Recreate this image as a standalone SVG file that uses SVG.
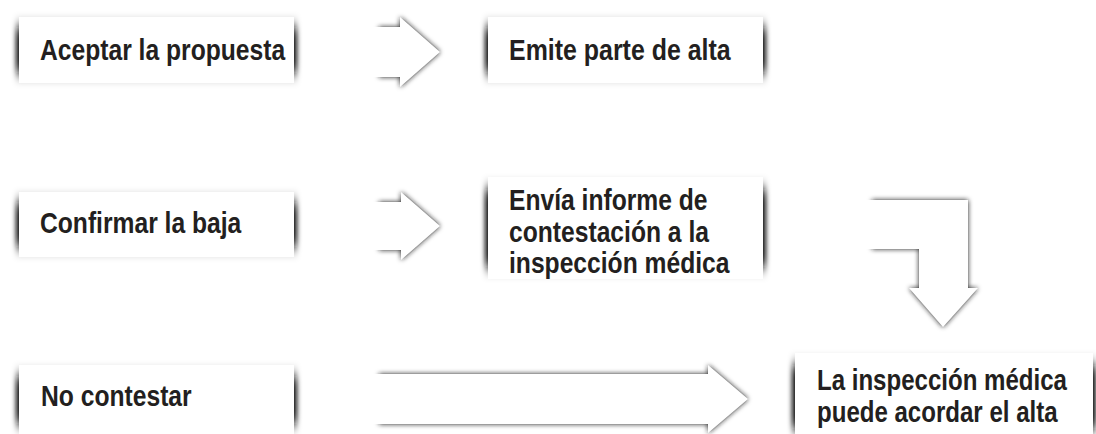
<svg xmlns="http://www.w3.org/2000/svg" width="1096" height="434" viewBox="0 0 1096 434">
<defs>
<filter id="boxsh" x="-10%" y="-50%" width="120%" height="200%"><feGaussianBlur stdDeviation="2.6 7"/></filter>
<filter id="arrsh" x="-20%" y="-30%" width="140%" height="160%"><feGaussianBlur stdDeviation="2.6"/></filter>
</defs>
<style>
.bsh{fill:#111111;filter:url(#boxsh)}
.box{fill:#ffffff}
.ash{fill:#1e1e1e;filter:url(#arrsh)}
.arr{fill:#ffffff}
.t{font-family:"Liberation Sans",Arial,sans-serif;font-weight:bold;font-size:29px;fill:#231f20}
</style>
<rect width="1096" height="434" fill="#ffffff"/>

<g id="connectors">
<g id="arrow1">
<path class="ash" d="M379,27 H400 V17 L440,52 L400,87 V77 H379 Z"/>
<path class="arr" d="M373,27 H400 V17 L440,52 L400,87 V77 H373 Z"/>
</g>
<g id="arrow2">
<path class="ash" d="M379,202 H401 V192 L440,226 L401,260 V250 H379 Z"/>
<path class="arr" d="M373,202 H401 V192 L440,226 L401,260 V250 H373 Z"/>
</g>
<g id="arrow3">
<path class="ash" d="M379,374 H708 V365 L748,399 L708,433 V424 H379 Z"/>
<path class="arr" d="M373,374 H708 V365 L748,399 L708,433 V424 H373 Z"/>
</g>
<g id="arrow4">
<path class="ash" d="M872,200 H968 V288 H978 L943,327 L909,288 H919 V249 H872 Z"/>
<path class="arr" d="M866,200 H968 V288 H978 L943,327 L909,288 H919 V249 H866 Z"/>
</g>
</g>

<g id="n1">
<rect class="bsh" x="16" y="27" width="281" height="46"/>
<rect class="box" x="19" y="17" width="275" height="66"/>
<g transform="translate(40,0) scale(0.85,1)"><text class="t" x="0" y="60">Aceptar la propuesta</text></g>
</g>
<g id="n2">
<rect class="bsh" x="485" y="27" width="281" height="46"/>
<rect class="box" x="488" y="17" width="275" height="66"/>
<g transform="translate(509,0) scale(0.86,1)"><text class="t" x="0" y="60">Emite parte de alta</text></g>
</g>
<g id="n3">
<rect class="bsh" x="16" y="202" width="281" height="45"/>
<rect class="box" x="19" y="192" width="275" height="65"/>
<g transform="translate(40,0) scale(0.85,1)"><text class="t" x="0" y="233">Confirmar la baja</text></g>
</g>
<g id="n4">
<rect class="bsh" x="485" y="189" width="281" height="78"/>
<rect class="box" x="488" y="177" width="275" height="102"/>
<g transform="translate(509,0) scale(0.85,1)">
<text class="t" x="0" y="210">Envía informe de</text>
<text class="t" x="0" y="242">contestación a la</text>
<text class="t" x="0" y="273">inspección médica</text>
</g>
</g>
<g id="n5">
<rect class="bsh" x="16" y="376" width="281" height="48"/>
<rect class="box" x="19" y="365" width="275" height="69"/>
<g transform="translate(41,0) scale(0.85,1)"><text class="t" x="0" y="406">No contestar</text></g>
</g>
<g id="n6">
<rect class="bsh" x="792" y="365" width="304" height="64"/>
<rect class="box" x="795" y="353" width="298" height="81"/>
<g transform="translate(817,0) scale(0.83,1)">
<text class="t" x="0" y="390">La inspección médica</text>
<text class="t" x="0" y="422">puede acordar el alta</text>
</g>
</g>
</svg>
